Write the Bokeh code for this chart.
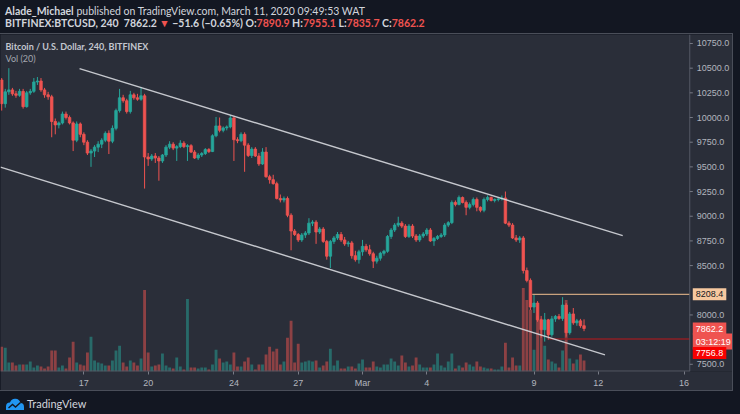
import pandas as pd
from bokeh.plotting import figure
from bokeh.models import Range1d, FixedTicker, NumeralTickFormatter, Label, Div, ColumnDataSource
from bokeh.layouts import column
from bokeh.embed import file_html
from bokeh.resources import INLINE

# ---------------- data ----------------
candle_times = pd.date_range("2020-02-13 04:00", periods=164, freq="4h")

opens = [10380, 10140, 10260, 10280, 10240, 10225, 10265, 10110, 10250, 10265,
         10360, 10370, 10280, 10230, 10210, 9960, 9925, 9945, 10035, 10000,
         9945, 9770, 9935, 9830, 9750, 9640, 9660, 9700, 9730, 9770,
         9840, 9760, 9890, 10070, 10200, 10170, 10060, 10230, 10200, 10185,
         10220, 9600, 9580, 9610, 9590, 9560, 9620, 9700, 9730, 9690,
         9705, 9740, 9705, 9715, 9650, 9590, 9620, 9635, 9675, 9655,
         9815, 9915, 9870, 9895, 9905, 9995, 9775, 9765, 9830, 9720,
         9615, 9680, 9610, 9530, 9650, 9400, 9370, 9330, 9180, 9165,
         9180, 9010, 8850, 8815, 8760, 8810, 8830, 8930, 8940, 8840,
         8870, 8745, 8595, 8745, 8780, 8815, 8760, 8720, 8730, 8600,
         8560, 8640, 8695, 8660, 8620, 8545, 8575, 8625, 8645, 8795,
         8860, 8910, 8930, 8900, 8795, 8900, 8800, 8760, 8800, 8820,
         8860, 8750, 8775, 8795, 8810, 8910, 8935, 9140, 9120, 9190,
         9140, 9090, 9120, 9170, 9090, 9060, 9170, 9190, 9160, 9170,
         9175, 9185, 8930, 8910, 8780, 8760, 8780, 8450, 8350, 8080,
         8120, 7950, 7850, 7950, 7800, 7960, 7985, 7965, 8100, 7820,
         8010, 7920, 7940, 7890.9]
highs = [10400, 10290, 10500, 10300, 10270, 10290, 10290, 10270, 10290, 10400,
         10410, 10400, 10300, 10260, 10230, 9990, 9960, 10060, 10060, 10020,
         9960, 9960, 9950, 9850, 9770, 9680, 9720, 9760, 9790, 9860,
         9870, 9920, 10090, 10290, 10230, 10190, 10270, 10250, 10240, 10310,
         10240, 9640, 9630, 9640, 9610, 9630, 9720, 9760, 9750, 9720,
         9770, 9760, 9730, 9730, 9670, 9640, 9650, 9690, 9690, 9830,
         10005, 10000, 9910, 9920, 10025, 10010, 9800, 9850, 9850, 9740,
         9700, 9700, 9640, 9690, 9700, 9420, 9420, 9350, 9220, 9200,
         9200, 9030, 8870, 8830, 8830, 8850, 8980, 8960, 8960, 8890,
         8890, 8760, 8760, 8800, 8840, 8840, 8790, 8750, 8750, 8650,
         8660, 8760, 8720, 8710, 8640, 8600, 8640, 8660, 8810, 8880,
         8930, 8995, 8950, 8920, 8920, 8920, 8820, 8820, 8840, 8880,
         8880, 8790, 8810, 8830, 8930, 8950, 9160, 9160, 9210, 9200,
         9160, 9140, 9190, 9190, 9100, 9190, 9210, 9200, 9180, 9190,
         9210, 9250, 8950, 8930, 8810, 8800, 8800, 8480, 8370, 8208.4,
         8140, 7990, 8020, 7960, 7990, 8000, 8010, 8180, 8120, 8030,
         8070, 7960, 7960, 7955.1]
lows = [10070, 10100, 10230, 10220, 10200, 10210, 10090, 10100, 10230, 10250,
        10330, 10260, 10200, 10180, 9800, 9830, 9890, 9930, 9980, 9930,
        9660, 9750, 9800, 9720, 9620, 9500, 9600, 9650, 9690, 9750,
        9630, 9740, 9870, 10050, 10150, 10040, 10040, 10180, 10170, 10170,
        9280, 9510, 9560, 9540, 9360, 9540, 9600, 9680, 9670, 9560,
        9690, 9690, 9560, 9640, 9580, 9570, 9600, 9620, 9640, 9650,
        9800, 9850, 9850, 9870, 9890, 9560, 9740, 9750, 9450, 9600,
        9590, 9600, 9510, 9520, 9390, 9330, 9320, 9170, 9140, 9140,
        8990, 8655, 8800, 8740, 8740, 8780, 8810, 8900, 8720, 8820,
        8730, 8560, 8475, 8720, 8760, 8740, 8700, 8690, 8570, 8540,
        8520, 8600, 8640, 8600, 8475, 8520, 8550, 8600, 8630, 8770,
        8840, 8890, 8880, 8780, 8780, 8780, 8740, 8740, 8780, 8800,
        8740, 8700, 8760, 8780, 8790, 8890, 8920, 9100, 9110, 9130,
        9010, 9070, 9100, 9050, 9040, 9040, 9150, 9150, 9140, 9150,
        9160, 8920, 8890, 8770, 8740, 8730, 8420, 8330, 8050, 8020,
        7930, 7770, 7730, 7750, 7780, 7930, 7950, 7940, 7780, 7800,
        7900, 7890, 7870, 7835.7]
closes = [10140, 10260, 10280, 10240, 10225, 10265, 10110, 10250, 10265, 10360,
          10370, 10280, 10230, 10210, 9960, 9925, 9945, 10035, 10000, 9945,
          9770, 9935, 9830, 9750, 9640, 9660, 9700, 9730, 9770, 9840,
          9760, 9890, 10070, 10200, 10170, 10060, 10230, 10200, 10185, 10220,
          9600, 9580, 9610, 9590, 9560, 9620, 9700, 9730, 9690, 9705,
          9740, 9705, 9715, 9650, 9590, 9620, 9635, 9675, 9655, 9815,
          9915, 9870, 9895, 9905, 9995, 9775, 9765, 9830, 9720, 9615,
          9680, 9610, 9530, 9650, 9400, 9370, 9330, 9180, 9165, 9180,
          9010, 8850, 8815, 8760, 8810, 8830, 8930, 8940, 8840, 8870,
          8745, 8595, 8745, 8780, 8815, 8760, 8720, 8730, 8600, 8560,
          8640, 8695, 8660, 8620, 8545, 8575, 8625, 8645, 8795, 8860,
          8910, 8930, 8900, 8795, 8900, 8800, 8760, 8800, 8820, 8860,
          8750, 8775, 8795, 8810, 8910, 8935, 9140, 9120, 9190, 9140,
          9090, 9120, 9170, 9090, 9060, 9170, 9190, 9160, 9170, 9175,
          9185, 8930, 8910, 8780, 8760, 8780, 8450, 8350, 8080, 8120,
          7950, 7850, 7950, 7800, 7960, 7985, 7965, 8100, 7820, 8010,
          7920, 7940, 7890.9, 7862.2]
volumes = [2500, 2400, 900, 900, 600, 700, 700, 700, 1000, 400,
           600, 500, 300, 500, 2100, 2100, 400, 600, 300, 1400,
           3000, 900, 700, 600, 1900, 3500, 1100, 900, 800, 600,
           600, 1100, 2100, 2600, 900, 500, 1100, 900, 600, 1300,
           8200, 1900, 500, 600, 700, 1800, 600, 400, 300, 1400,
           500, 200, 7300, 400, 400, 300, 400, 400, 200, 700,
           2200, 1300, 900, 1000, 700, 1900, 500, 500, 1000, 1400,
           700, 200, 700, 700, 1700, 2500, 2000, 2300, 700, 1000,
           3400, 5100, 900, 2800, 900, 1000, 1100, 1000, 1100, 400,
           600, 1000, 2300, 600, 1100, 300, 300, 500, 500, 300,
           800, 1200, 400, 400, 1000, 500, 400, 700, 700, 1300,
           1000, 600, 1600, 900, 500, 600, 1400, 700, 400, 400,
           400, 700, 1800, 600, 400, 1000, 1800, 300, 600, 400,
           900, 700, 500, 1000, 500, 400, 300, 300, 200, 200,
           500, 2900, 400, 1400, 600, 600, 8400, 7200, 6200, 2200,
           5600, 5300, 2600, 1200, 1000, 800, 400, 2100, 7200, 1300,
           800, 1200, 1700, 1100]

upper_channel_times = ["2020-02-16 19:10", "2020-03-13 03:20"]
upper_channel_prices = [10495, 8803]
lower_channel_times = ["2020-02-13 02:40", "2020-03-12 07:30"]
lower_channel_prices = [9498, 7595]

resistance_level = 8208.4
resistance_start = "2020-03-08 22:00"
support_level = 7756.8
support_start = "2020-03-09 17:00"
last_price = 7862.2
countdown_text = "03:12:19"

price_ticks = [7500, 8000, 8500, 8750, 9000, 9250, 9500, 9750, 10000, 10250, 10500, 10750]
date_ticks = ["2020-02-17", "2020-02-20", "2020-02-24", "2020-02-27", "2020-03-01",
              "2020-03-04", "2020-03-09", "2020-03-12", "2020-03-16"]
date_labels = ["17", "20", "24", "27", "Mar", "4", "9", "12", "16"]

# ---------------- styling ----------------
UP = "#26a69a"
DOWN = "#ef5350"
PANE = "#2a2e39"
OUTER = "#131722"
TXT = "#b2b5be"
LINE = "#555965"
BORDER = "#4a4e59"
FONT = "Lato"
SCALE_FONT = "Liberation Sans"
FRAME_W = 724
TOTAL_W = 732


def ms(t):
    return int(pd.Timestamp(t).value // 10**6)


x_start = ms("2020-02-13 02:40")
x_sep = ms("2020-03-16 06:25")      # price-scale separator
x_end = ms("2020-03-18 06:15")      # right edge of the pane
y_lo, y_hi = 7427, 10841
FOUR_H = 4 * 3600 * 1000
px = (x_end - x_start) / FRAME_W    # one screen pixel in time units

colors = [UP if c >= o else DOWN for o, c in zip(opens, closes)]
src = ColumnDataSource(dict(
    t=candle_times, o=opens, h=highs, l=lows, c=closes,
    top=[max(o, c) for o, c in zip(opens, closes)],
    bottom=[min(o, c) for o, c in zip(opens, closes)],
    color=colors, vol=volumes))

p = figure(width=TOTAL_W, height=356, x_axis_type="datetime", y_axis_location="right",
           x_range=Range1d(x_start, x_end), y_range=Range1d(y_lo, y_hi),
           output_backend="svg", toolbar_location=None,
           min_border_left=0, min_border_top=0, min_border_right=0, min_border_bottom=19)
p.extra_y_ranges = {"vol": Range1d(0, 33900)}

p.background_fill_color = PANE
p.border_fill_color = PANE
p.outline_line_color = None
p.xgrid.visible = False
p.ygrid.visible = False
p.styles = {"box-shadow": f"0 0 0 1px {BORDER}"}

# volume
p.vbar(x="t", width=FOUR_H * 0.8, top="vol", bottom=0, y_range_name="vol", source=src,
       fill_color="color", fill_alpha=0.5, line_color=None)
# candles
p.segment(x0="t", y0="h", x1="t", y1="l", line_color="color", line_width=1, source=src)
p.vbar(x="t", width=FOUR_H * 0.7, top="top", bottom="bottom", source=src,
       fill_color="color", line_color="color", line_width=0.8)

# horizontal levels
p.segment(x0=[ms(resistance_start)], y0=[resistance_level], x1=[x_sep], y1=[resistance_level],
          line_color="#c9a27e", line_width=1.2)
p.segment(x0=[ms(support_start)], y0=[support_level], x1=[x_sep], y1=[support_level],
          line_color="#8e1f24", line_width=1.6)

# channel
p.line(x=[ms(t) for t in upper_channel_times], y=upper_channel_prices,
       line_color="#d6d8de", line_width=1.4, line_alpha=0.9)
p.line(x=[ms(t) for t in lower_channel_times], y=lower_channel_prices,
       line_color="#d6d8de", line_width=1.4, line_alpha=0.9)

# time-axis line, price-scale separator with ticks
p.segment(x0=[x_start], y0=[y_lo], x1=[x_sep], y1=[y_lo], line_color=LINE, line_width=2)
p.segment(x0=[x_sep], y0=[y_lo], x1=[x_sep], y1=[y_hi], line_color=LINE, line_width=1)
p.segment(x0=[x_sep] * len(price_ticks), y0=price_ticks,
          x1=[x_sep + 3 * px] * len(price_ticks), y1=price_ticks,
          line_color="#787b86", line_width=1)

# axes
xa = p.xaxis[0]
xa.ticker = FixedTicker(ticks=[ms(d) for d in date_ticks])
xa.major_label_overrides = {ms(d): lab for d, lab in zip(date_ticks, date_labels)}
xa.axis_line_color = None
xa.major_tick_line_color = "#787b86"
xa.major_tick_in = 0
xa.major_tick_out = 3
xa.major_label_standoff = 3
ya = p.yaxis[0]
ya.ticker = FixedTicker(ticks=price_ticks)
ya.formatter = NumeralTickFormatter(format="0.0")
ya.fixed_location = x_sep + 7 * px
ya.axis_line_color = None
ya.major_tick_line_color = None
ya.major_tick_in = 0
ya.major_tick_out = 0
ya.major_label_standoff = 0
for ax in (xa, ya):
    ax.minor_tick_line_color = None
    ax.major_label_text_color = TXT
    ax.major_label_text_font = SCALE_FONT
    ax.major_label_text_font_size = "9px"

# legend texts inside pane
p.add_layout(Label(x=x_start, y=y_hi, x_offset=5, y_offset=-12, text="Bitcoin / U.S. Dollar, 240, BITFINEX",
                   text_baseline="middle", text_font=FONT, text_font_size="9px",
                   text_font_style="bold", text_color="#c3c6ce"))
p.add_layout(Label(x=x_start, y=y_hi, x_offset=5, y_offset=-24, text="Vol (20)",
                   text_baseline="middle", text_font=FONT, text_font_size="9px",
                   text_color="#a3a6af"))

# price-scale tags
def tag(y, text, bg, fg, yoff=0):
    p.add_layout(Label(x=x_sep, y=y, x_offset=3, y_offset=yoff, text=text, text_align="left",
                       text_baseline="middle", text_font=SCALE_FONT, text_font_size="9px",
                       text_color=fg, background_fill_color=bg, padding=3))

tag(resistance_level, f"{resistance_level:.1f}", "#f6c89f", "#131722")
tag(last_price, f"{last_price:.1f}", DOWN, "#ffffff")
tag(last_price, countdown_text, DOWN, "#ffffff", yoff=-13)
tag(support_level, f"{support_level:.1f}", "#f70000", "#ffffff", yoff=-14)

# header / footer
RED = "#ef5350"
header = Div(width=TOTAL_W, height=24, text=(
    f'<div style="font-family:{FONT};font-size:10.5px;line-height:12px;color:#d1d4dc;white-space:nowrap;">'
    '<b>Alade_Michael</b> published on TradingView.com, March 11, 2020 09:49:53 WAT<br>'
    '<span style="font-weight:bold">BITFINEX:BTCUSD, 240&nbsp; 7862.2 '
    f'<span style="color:{RED}">&#9660;</span> &minus;51.6 (&minus;0.65%) '
    f'O:<span style="color:{RED}">7890.9</span> H:<span style="color:{RED}">7955.1</span> '
    f'L:<span style="color:{RED}">7835.7</span> C:<span style="color:{RED}">7862.2</span></span></div>'),
    styles={"background-color": OUTER})

footer = Div(width=TOTAL_W, height=18, text=(
    '<div style="display:flex;align-items:center;height:18px;">'
    '<svg width="20" height="13" viewBox="0 0 20 13">'
    '<path d="M1 12 L1 8.5 Q1 4.5 5 4.5 Q6.5 0.5 10.5 0.8 Q14.5 1 15.5 5 Q19 5.2 19 9 L19 12 Z" fill="#2196f3"/>'
    '<path d="M3.5 10 L7.5 6.5 L10.5 9 L15.5 4.5" stroke="#131722" stroke-width="1.4" fill="none"/></svg>'
    f'<span style="font-family:{FONT};font-size:11px;color:#d1d4dc;margin-left:2px;">TradingView</span></div>'),
    styles={"background-color": OUTER})

layout = column(header, p, footer,
                styles={"background-color": OUTER, "box-shadow": f"0 0 0 8px {OUTER}"})

open("out.html", "w").write(file_html(layout, INLINE))
